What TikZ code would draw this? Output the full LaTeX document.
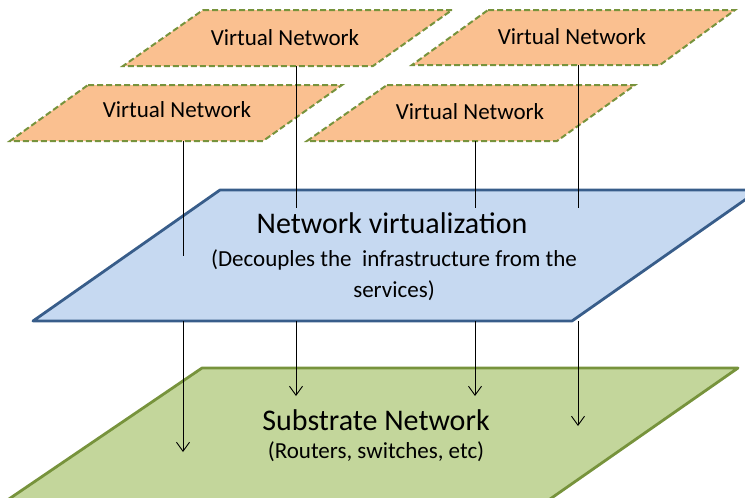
\documentclass[tikz,border=0pt]{standalone}
\usepackage{fontspec}
\setmainfont{Carlito}
\usetikzlibrary{arrows.meta}
\definecolor{vnfill}{HTML}{FAC090}
\definecolor{vnline}{HTML}{77933C}
\definecolor{nvfill}{HTML}{C6D9F1}
\definecolor{nvline}{HTML}{385D8A}
\definecolor{snfill}{HTML}{C3D69B}
\definecolor{snline}{HTML}{77933C}
\tikzset{
  vnplane/.style={fill=vnfill, draw=vnline, line width=2pt, dash pattern=on 6pt off 3pt},
  nvplane/.style={fill=nvfill, draw=nvline, line width=2.8pt, line join=round},
  snplane/.style={fill=snfill, draw=snline, line width=2.8pt, line join=round},
  vnlabel/.style={font=\fontsize{23}{26}\selectfont, inner sep=0pt},
  biglabel/.style={font=\fontsize{30}{34}\selectfont, inner sep=0pt},
  sublabel/.style={font=\fontsize{23}{31}\selectfont, inner sep=0pt, align=center},
  link/.style={line width=0.9pt, black},
  linkarrow/.style={link, -{Straight Barb[length=9pt, width=13pt, line width=0.9pt]}}
}
\begin{document}
\begin{tikzpicture}[x=1pt, y=-1pt]
\useasboundingbox (0,0) rectangle (745,498);
\begin{scope}
\clip (0,0) rectangle (745,498);

% substrate layer
\draw[snplane] (202,368) -- (738,368) -- (520,520) -- (-22,520) -- cycle;
\node[biglabel] (sn) at (376,420) {Substrate Network};
\node[sublabel] (snsub) at (376,452) {(Routers, switches, etc)};

% virtualization layer
\draw[nvplane] (220,190) -- (759,190) -- (572,321) -- (33,321) -- cycle;
\node[biglabel] (nv) at (392,223) {Network virtualization};
\node[sublabel] (nvsub) at (394,275) {(Decouples the \ infrastructure from the\\services)};

% virtual networks
\draw[vnplane] (203,10) -- (452,10) -- (373,66) -- (123,66) -- cycle;
\node[vnlabel] (vn1) at (285,38) {Virtual Network};
\draw[vnplane] (488,10) -- (735,10) -- (660,65) -- (412,65) -- cycle;
\node[vnlabel] (vn2) at (572,37) {Virtual Network};
\draw[vnplane] (88,85) -- (342,85) -- (263,141) -- (10,141) -- cycle;
\node[vnlabel] (vn3) at (177,110) {Virtual Network};
\draw[vnplane] (387,85) -- (635,85) -- (557,141) -- (307,141) -- cycle;
\node[vnlabel] (vn4) at (470,112) {Virtual Network};

% link end points
\coordinate (a0) at (183,141); \coordinate (a1) at (183,256);
\coordinate (a2) at (183,321); \coordinate (a3) at (183,452);
\coordinate (b0) at (296,66);  \coordinate (b1) at (296,208);
\coordinate (b2) at (296,321); \coordinate (b3) at (296,396);
\coordinate (c0) at (475,141); \coordinate (c1) at (475,208);
\coordinate (c2) at (475,321); \coordinate (c3) at (475,396);
\coordinate (d0) at (578,65);  \coordinate (d1) at (578,208);
\coordinate (d2) at (578,321); \coordinate (d3) at (578,426);

% virtual network -> virtualization layer
\draw[link] (a0) -- (a1);
\draw[link] (b0) -- (b1);
\draw[link] (c0) -- (c1);
\draw[link] (d0) -- (d1);
% virtualization layer -> substrate
\draw[linkarrow] (a2) -- (a3);
\draw[linkarrow] (b2) -- (b3);
\draw[linkarrow] (c2) -- (c3);
\draw[linkarrow] (d2) -- (d3);
\end{scope}
\end{tikzpicture}
\end{document}
